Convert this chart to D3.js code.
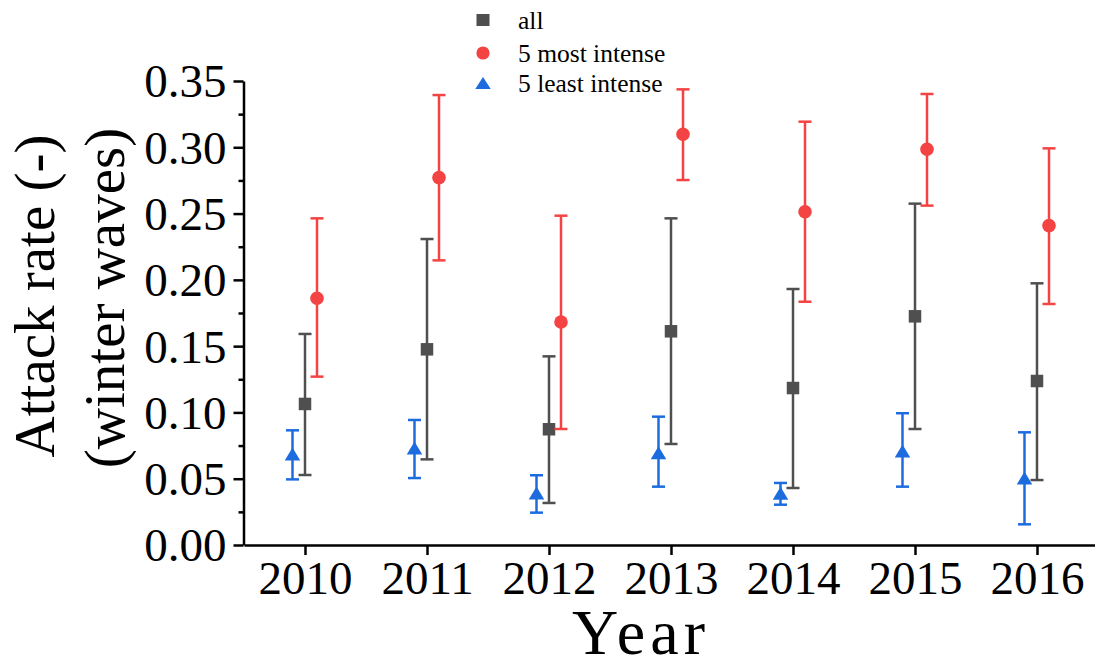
<!DOCTYPE html>
<html>
<head>
<meta charset="utf-8">
<script src="https://cdn.jsdelivr.net/npm/d3@7"></script>
<style>
  html, body { margin: 0; padding: 0; background: #fff; }
  svg { display: block; }
  text { font-family: "Liberation Serif", "Times New Roman", serif; fill: #000; }
</style>
</head>
<body>
<svg id="chart" width="1095" height="668"></svg>
<script>
// ---- data ----
const years = [2010, 2011, 2012, 2013, 2014, 2015, 2016];

const allMean  = [0.1064, 0.1476, 0.0873, 0.1612, 0.1184, 0.1725, 0.1237];
const allLow   = [0.0528, 0.0646, 0.0317, 0.0762, 0.0430, 0.0875, 0.0490];
const allHigh  = [0.1592, 0.2308, 0.1423, 0.2464, 0.1931, 0.2575, 0.1974];

const mostMean = [0.1861, 0.2771, 0.1682, 0.3098, 0.2514, 0.2985, 0.2409];
const mostLow  = [0.1270, 0.2147, 0.0875, 0.2753, 0.1835, 0.2560, 0.1818];
const mostHigh = [0.2464, 0.3394, 0.2484, 0.3437, 0.3193, 0.3402, 0.2992];

const leastMean = [0.0686, 0.0732, 0.0392, 0.0696, 0.0390, 0.0709, 0.0506];
const leastLow  = [0.0495, 0.0505, 0.0244, 0.0440, 0.0304, 0.0440, 0.0156];
const leastHigh = [0.0865, 0.0943, 0.0526, 0.0968, 0.0468, 0.0994, 0.0850];

const yTicks = [0.00, 0.05, 0.10, 0.15, 0.20, 0.25, 0.30, 0.35];
const yMinorTicks = [0.025, 0.075, 0.125, 0.175, 0.225, 0.275, 0.325];
const seriesNames = ["all", "5 most intense", "5 least intense"];
const xTitle = "Year";
const yTitle1 = "Attack rate (-)";
const yTitle2 = "(winter waves)";

// ---- layout ----
const svg = d3.select("#chart");
const x = d3.scaleLinear().domain([2009.5, 2016.5]).range([244, 1098]);
const y = d3.scaleLinear().domain([0, 0.35]).range([545, 81]);

const colors = { all: "#4f4f4f", most: "#f44343", least: "#1c6ce0" };

// axes
const gx = svg.append("g").attr("transform", "translate(0,545)")
  .call(d3.axisBottom(x).tickValues(years).tickFormat(d3.format("d")).tickSize(10).tickPadding(6).tickSizeOuter(0));
gx.select(".domain").attr("stroke", "#000").attr("stroke-width", 2.5);
gx.selectAll(".tick line").attr("stroke", "#000").attr("stroke-width", 2.5);
gx.selectAll(".tick text").style("font-size", "47px").style("font-family", "Liberation Serif").attr("dy", "0.71em").attr("fill", "#000");

const gyMinor = svg.append("g").attr("transform", "translate(243.5,0)")
  .call(d3.axisLeft(y).tickValues(yMinorTicks).tickSize(5).tickFormat("").tickSizeOuter(0));
gyMinor.select(".domain").remove();
gyMinor.selectAll(".tick line").attr("stroke", "#000").attr("stroke-width", 2.5);

const gy = svg.append("g").attr("transform", "translate(243.5,0)")
  .call(d3.axisLeft(y).tickValues(yTicks).tickFormat(d3.format(".2f")).tickSize(10).tickPadding(7).tickSizeOuter(0));
gy.select(".domain").attr("stroke", "#000").attr("stroke-width", 2.5);
gy.selectAll(".tick line").attr("stroke", "#000").attr("stroke-width", 2.5);
gy.selectAll(".tick text").style("font-size", "47px").style("font-family", "Liberation Serif").attr("fill", "#000").attr("dy", "0.34em");

// titles
svg.append("text").attr("x", 641).attr("y", 654).attr("text-anchor", "middle")
  .style("font-size", "64px").style("letter-spacing", "5px").text(xTitle);
svg.append("text").attr("transform", "translate(54,296) rotate(-90)").attr("text-anchor", "middle")
  .style("font-size", "57px").text(yTitle1);
svg.append("text").attr("transform", "translate(124,298) rotate(-90)").attr("text-anchor", "middle")
  .style("font-size", "57px").text(yTitle2);

// series drawing
const capW = 13;
function triPath(w, h) {
  return `M0,${-h/2}L${w/2},${h/2}L${-w/2},${h/2}Z`;
}
function drawSeries(mean, low, high, color, dx, shape) {
  const g = svg.append("g");
  const rows = years.map((yr, i) => ({ yr, m: mean[i], lo: low[i], hi: high[i] }));
  const grp = g.selectAll("g").data(rows).join("g")
    .attr("transform", d => `translate(${x(d.yr) + dx},0)`);
  grp.append("line").attr("x1", 0).attr("x2", 0)
    .attr("y1", d => y(d.lo)).attr("y2", d => y(d.hi))
    .attr("stroke", color).attr("stroke-width", 2.5);
  grp.append("line").attr("x1", -capW/2).attr("x2", capW/2)
    .attr("y1", d => y(d.hi)).attr("y2", d => y(d.hi))
    .attr("stroke", color).attr("stroke-width", 2.5);
  grp.append("line").attr("x1", -capW/2).attr("x2", capW/2)
    .attr("y1", d => y(d.lo)).attr("y2", d => y(d.lo))
    .attr("stroke", color).attr("stroke-width", 2.5);
  if (shape === "square") {
    grp.append("rect").attr("x", -6.25).attr("width", 12.5).attr("height", 12.5)
      .attr("y", d => y(d.m) - 6.25).attr("fill", color);
  } else if (shape === "circle") {
    grp.append("circle").attr("cx", 0).attr("cy", d => y(d.m)).attr("r", 6.8).attr("fill", color);
  } else {
    grp.append("path").attr("d", triPath(15.5, 13))
      .attr("transform", d => `translate(0,${y(d.m)})`).attr("fill", color);
  }
}
drawSeries(allMean, allLow, allHigh, colors.all, 0, "square");
drawSeries(mostMean, mostLow, mostHigh, colors.most, 12, "circle");
drawSeries(leastMean, leastLow, leastHigh, colors.least, -12.5, "triangle");

// legend
const lg = svg.append("g");
const lx = 483, rowsY = [20, 53, 83];
lg.append("rect").attr("x", lx - 6.5).attr("y", rowsY[0] - 6).attr("width", 13).attr("height", 12).attr("fill", colors.all);
lg.append("circle").attr("cx", lx).attr("cy", rowsY[1]).attr("r", 6.6).attr("fill", colors.most);
lg.append("path").attr("d", triPath(15.5, 12)).attr("transform", `translate(${lx},${rowsY[2]})`).attr("fill", colors.least);
seriesNames.forEach((n, i) => {
  lg.append("text").attr("x", 518).attr("y", rowsY[i] + 9).style("font-size", "25.5px").text(n);
});
</script>
</body>
</html>
